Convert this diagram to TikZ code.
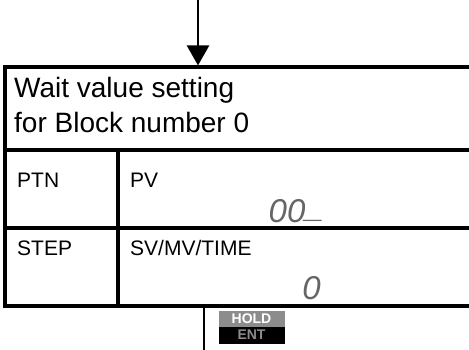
\documentclass[tikz,border=0pt]{standalone}
\usepackage{fontspec}
\setmainfont{Liberation Sans}
\usetikzlibrary{arrows.meta}
\tikzset{
  frame/.style={draw=black, line width=3.2pt, rectangle, inner sep=0pt},
  big/.style={font=\fontsize{28}{35}\selectfont, anchor=base west, inner sep=0pt},
  small/.style={font=\fontsize{21}{24}\selectfont, anchor=base west, inner sep=0pt},
  lcd/.style={font=\fontsize{33}{36}\selectfont\itshape, text=black!60, anchor=base east, inner sep=0pt},
  flow/.style={line width=2.8pt},
  flowarrow/.style={flow, -{Triangle[length=20pt,width=22pt]}},
  keytop/.style={fill=black!45, draw=black!45, line width=0.5pt, text=white, font=\fontsize{14}{14}\selectfont\bfseries, inner sep=0pt},
  keybot/.style={fill=black, draw=black, line width=0.5pt, text=black!45, font=\fontsize{14}{14}\selectfont\bfseries, inner sep=0pt}
}
\begin{document}
\begin{tikzpicture}[x=1pt,y=-1pt]
\useasboundingbox (0,0) rectangle (469,349);
% frame cells
\node[frame, minimum width=466pt, minimum height=83pt] (header) at (238,108.5) {};
\node[frame, minimum width=113pt, minimum height=78pt] (ptn) at (61.5,189) {};
\node[frame, minimum width=353pt, minimum height=78pt] (pv) at (294.5,189) {};
\node[frame, minimum width=113pt, minimum height=78pt] (step) at (61.5,267) {};
\node[frame, minimum width=353pt, minimum height=78pt] (sv) at (294.5,267) {};
% texts
\node[big] (t1) at (14,97) {Wait value setting};
\node[big] (t2) at (14,132) {for Block number 0};
\node[small] (ptnlabel) at (17,187) {PTN};
\node[small] (pvlabel) at (130,187) {PV};
\node[small] (steplabel) at (17,255) {STEP};
\node[small] (svlabel) at (130,255) {SV/MV/TIME};
\node[lcd] (pvval) at (324,222) {00\raisebox{5pt}{\_}};
\node[lcd] (svval) at (321,299) {0};
% incoming arrow
\coordinate (in) at (198,0);
\draw[flowarrow] (in) -- (in |- header.north);
% outgoing line
\coordinate (out) at (204,352);
\draw[flow] (out |- sv.south) -- (out);
% HOLD / ENT key
\node[keytop, minimum width=65pt, minimum height=16pt] (hold) at (251.5,319) {HOLD};
\node[keybot, minimum width=65pt, minimum height=16pt] (ent) at (251.5,335) {ENT};
\end{tikzpicture}
\end{document}
